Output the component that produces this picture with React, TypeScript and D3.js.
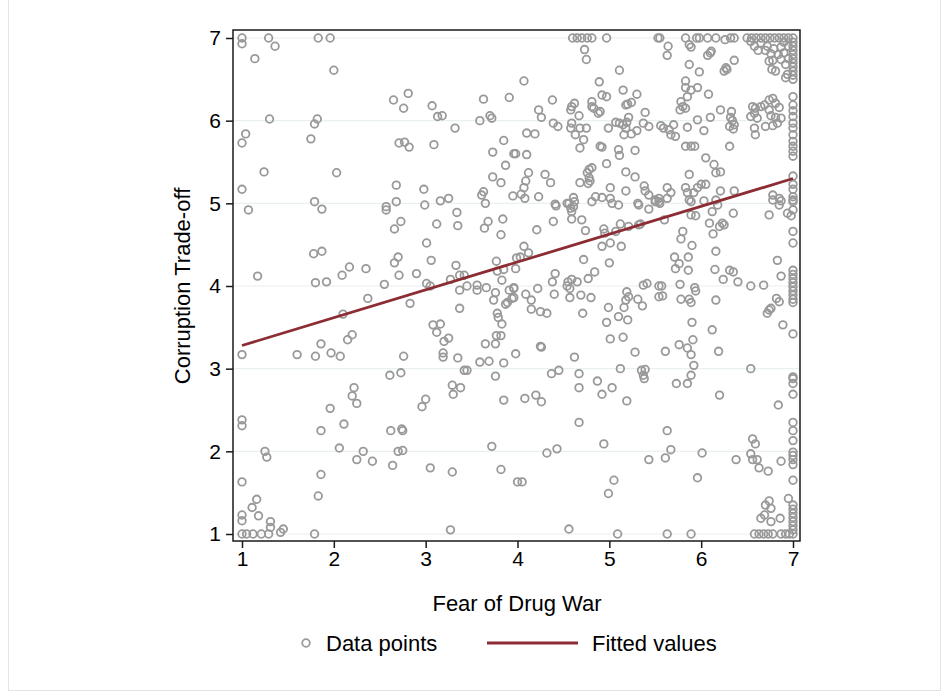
import React, { useEffect, useRef } from 'react';
import * as d3 from 'd3';

// x = Fear of Drug War, y = Corruption Trade-off
const lowPoints: [number, number][] = [
  [1, 7], [1, 6.93], [1.29, 7], [1.36, 6.9], [1.14, 6.75], [1.83, 7], [1.96, 7], [2.0, 6.61], [1.3, 6.02], [1.82, 6.02],
  [1.79, 5.96], [1.04, 5.84], [1, 5.73], [1.75, 5.78], [1.24, 5.38], [2.03, 5.37], [1, 5.17], [1.79, 5.02], [1.87, 4.93], [1.07, 4.92],
  [1.78, 4.39], [1.87, 4.42], [1.17, 4.12], [1.8, 4.04], [1.92, 4.05], [2.09, 4.13], [2.17, 4.23], [2.35, 4.21], [2.37, 3.85], [2.1, 3.66],
  [2.2, 3.41], [2.15, 3.35], [1.86, 3.3], [1, 3.17], [1.6, 3.17], [1.8, 3.15], [1.97, 3.19], [2.07, 3.15],
  [2.22, 2.77], [2.2, 2.67], [2.25, 2.58], [1.96, 2.52], [1, 2.38], [1, 2.31], [2.11, 2.33], [1.86, 2.25], [2.06, 2.04], [1.25, 2.0],
  [1.27, 1.93], [2.32, 2.0], [2.25, 1.9], [2.42, 1.88], [1, 1.63], [1.86, 1.72], [1.83, 1.46], [1.16, 1.42], [1.11, 1.32], [1.18, 1.22],
  [1, 1.23], [1, 1.16], [1.31, 1.15], [1.31, 1.08], [1.45, 1.06], [1.42, 1.02], [1, 1], [1.05, 1], [1.12, 1], [1.21, 1], [1.29, 1], [1.79, 1],
];

const midPoints: [number, number][] = [
  [2.65, 6.25], [2.81, 6.33], [2.76, 6.15], [3.07, 6.18], [3.13, 6.05], [3.18, 6.06], [3.32, 5.91], [3.63, 6.26], [3.91, 6.28], [3.59, 6.0],
  [3.7, 6.06], [3.72, 6.03], [2.71, 5.73], [2.77, 5.74], [2.82, 5.68], [3.09, 5.71], [3.85, 5.76], [3.73, 5.62], [3.96, 5.6], [3.87, 5.46],
  [3.73, 5.32], [3.82, 5.25], [2.68, 5.22], [2.98, 5.17], [2.68, 5.02], [2.57, 4.96], [2.57, 4.92], [2.99, 4.98], [3.16, 5.03], [3.25, 5.06],
  [3.63, 5.14], [3.61, 5.1], [3.65, 5.0], [3.95, 5.09], [3.34, 4.89], [2.73, 4.78], [2.66, 4.69], [3.12, 4.75], [3.35, 4.73], [3.68, 4.78],
  [3.64, 4.7], [3.84, 4.81], [3.82, 4.62], [3.01, 4.52], [2.7, 4.35], [2.66, 4.28], [3.06, 4.31], [2.71, 4.13], [2.9, 4.15], [2.55, 4.02],
  [3.01, 4.03], [3.05, 4.0], [3.33, 4.25], [3.27, 4.08], [3.37, 4.13], [3.42, 4.13], [3.37, 3.95], [3.45, 4.0], [3.56, 4.01], [3.56, 3.95],
  [3.66, 3.98], [3.77, 4.3], [3.78, 4.18], [3.85, 4.2], [3.83, 4.07], [3.76, 3.92], [3.74, 3.83], [3.91, 3.95], [3.96, 3.97], [3.94, 3.85],
  [3.89, 3.8], [3.87, 3.78], [3.99, 4.34], [2.83, 3.79], [3.37, 3.73], [3.78, 3.67], [3.79, 3.62], [3.83, 3.54], [3.08, 3.53], [3.16, 3.54],
  [3.12, 3.44], [3.2, 3.33], [3.25, 3.37], [3.77, 3.4], [3.82, 3.4], [3.76, 3.3], [3.65, 3.3], [2.76, 3.15], [3.19, 3.19], [3.19, 3.14],
  [3.35, 3.13], [3.59, 3.08], [3.69, 3.09], [3.85, 3.07], [3.98, 3.18], [2.61, 2.92], [2.73, 2.95], [3.42, 2.98], [3.45, 2.98], [3.76, 2.91],
  [3.29, 2.8], [3.38, 2.77], [3.3, 2.69], [3.0, 2.63], [2.96, 2.54], [3.85, 2.62], [2.62, 2.25], [2.74, 2.27], [2.75, 2.25], [2.7, 2.0],
  [2.75, 2.01], [3.72, 2.06], [2.64, 1.83], [3.05, 1.8], [3.29, 1.75], [3.82, 1.78], [4.0, 1.63], [3.27, 1.05],
];

const highPoints: [number, number][] = [
  [4.6, 7], [4.65, 7], [4.7, 7], [4.76, 7], [4.81, 7], [4.97, 7], [5.53, 7], [4.73, 6.86], [4.75, 6.74], [5.11, 6.61],
  [4.07, 6.48], [4.89, 6.47], [5.15, 6.37], [5.3, 6.32], [4.92, 6.31], [4.97, 6.29], [4.38, 6.25], [5.2, 6.2], [5.24, 6.22], [5.18, 6.19],
  [4.81, 6.23], [4.81, 6.17], [4.83, 6.15], [4.62, 6.21], [4.59, 6.17], [4.58, 6.13], [4.9, 6.11], [4.88, 6.09], [5.39, 6.1], [4.23, 6.13],
  [4.26, 6.04], [4.67, 6.06], [5.21, 6.04], [5.19, 5.98], [4.39, 5.97], [4.44, 5.93], [4.59, 5.97], [4.58, 5.91], [4.68, 5.91], [4.75, 5.91],
  [4.63, 5.83], [4.99, 5.91], [5.07, 5.98], [5.11, 5.97], [5.15, 5.95], [5.18, 5.91], [5.37, 5.97], [5.43, 5.93], [5.3, 5.88], [5.24, 5.84],
  [5.16, 5.83], [4.1, 5.85], [4.19, 5.84], [4.72, 5.77], [4.68, 5.67], [4.9, 5.69], [4.92, 5.68], [5.1, 5.65], [5.11, 5.58], [5.28, 5.64],
  [3.98, 5.6], [4.1, 5.59], [4.97, 5.48], [4.78, 5.41], [4.81, 5.43], [4.76, 5.37], [4.78, 5.31], [4.79, 5.27], [4.77, 5.24], [4.68, 5.25],
  [5.18, 5.38], [5.28, 5.32], [4.12, 5.37], [4.09, 5.27], [4.07, 5.19], [4.04, 5.11], [4.3, 5.35], [4.36, 5.25], [5.01, 5.19], [5.18, 5.15],
  [5.38, 5.21], [5.39, 5.15], [5.43, 5.1], [4.08, 5.06], [4.23, 5.08], [4.61, 5.07], [4.62, 5.02], [4.54, 5.0], [4.85, 5.08], [4.92, 5.07],
  [5.01, 5.06], [4.81, 5.02], [4.41, 4.99], [5.03, 5.0], [5.1, 4.98], [5.31, 5.0], [5.5, 5.04], [5.54, 5.02],
  [4.42, 4.97], [4.56, 5.0], [4.58, 4.94], [4.59, 4.9], [4.61, 4.96], [5.32, 4.98], [5.43, 4.93], [4.39, 4.78], [4.59, 4.81], [4.7, 4.8],
  [4.21, 4.68], [4.74, 4.67], [4.94, 4.69], [4.95, 4.64], [5.07, 4.66], [5.12, 4.75], [5.21, 4.72], [5.32, 4.74], [5.34, 4.75], [4.92, 4.48],
  [5.01, 4.52], [5.13, 4.48], [4.07, 4.48], [4.12, 4.4], [4.03, 4.35], [3.98, 4.21], [4.72, 4.32], [5.0, 4.28], [4.41, 4.15], [4.38, 4.05],
  [4.84, 4.17], [4.77, 4.09], [4.59, 4.08], [4.55, 4.05], [4.54, 4.0], [4.57, 3.97], [4.65, 4.05], [4.22, 3.97], [3.96, 3.98], [3.96, 3.86],
  [4.09, 3.9], [4.15, 3.83], [4.4, 3.9], [4.57, 3.86], [4.69, 3.89], [4.8, 3.86], [4.15, 3.72], [4.25, 3.69], [4.32, 3.67], [4.71, 3.67],
  [5.19, 3.93], [5.21, 3.87], [5.18, 3.83], [5.31, 3.84], [5.36, 3.76], [5.37, 4.01], [5.41, 4.03], [5.54, 4.0], [5.54, 3.87], [4.99, 3.74],
  [5.16, 3.74], [5.1, 3.63], [5.2, 3.59], [4.97, 3.56], [4.25, 3.27], [4.26, 3.26], [5.01, 3.36], [5.15, 3.38], [5.28, 3.2], [4.62, 3.14],
  [4.37, 2.94], [4.45, 2.98], [4.67, 2.94], [5.12, 3.0], [5.35, 2.98], [5.39, 2.99], [5.37, 2.92], [5.38, 2.88],
  [4.08, 2.64], [4.2, 2.68], [4.26, 2.6], [4.67, 2.77], [4.87, 2.85], [5.03, 2.77], [4.92, 2.69], [5.19, 2.61], [4.67, 2.35], [4.32, 1.98],
  [4.43, 2.03], [4.94, 2.09], [5.43, 1.9], [4.05, 1.63], [5.05, 1.65], [4.99, 1.49], [4.56, 1.06], [5.09, 1.0],
];

const topPoints: [number, number][] = [
  [5.55, 7], [5.83, 7], [5.95, 7], [5.98, 7], [6.07, 7], [6.16, 7], [6.26, 6.98], [6.32, 7], [6.36, 7], [5.64, 6.9],
  [5.63, 6.79], [5.87, 6.92], [5.89, 6.89], [6.07, 6.79], [6.1, 6.82], [6.11, 6.84], [5.87, 6.68], [5.98, 6.59], [6.27, 6.64], [6.25, 6.6],
  [6.28, 6.62], [6.36, 6.73], [5.83, 6.48], [5.83, 6.4], [5.89, 6.37], [5.96, 6.4], [5.85, 6.29], [6.08, 6.32], [5.78, 6.23], [5.8, 6.17],
  [5.83, 6.15], [5.77, 6.13], [6.21, 6.13], [6.33, 6.11], [6.32, 6.04], [6.34, 6.0], [6.36, 5.95], [6.1, 6.04], [5.96, 6.01], [6.31, 5.93],
  [6.35, 5.9], [5.56, 5.94], [5.59, 5.91], [5.65, 5.89], [5.67, 5.83], [5.72, 5.81], [5.7, 5.95], [5.85, 5.92], [6.03, 5.88], [5.83, 5.69],
  [5.89, 5.69], [5.93, 5.69], [6.31, 5.69], [6.05, 5.55], [6.14, 5.47], [6.16, 5.37], [6.21, 5.38], [5.87, 5.35],
  [6.56, 6.17], [6.59, 6.15], [6.58, 6.09], [6.54, 6.05], [6.61, 6.03], [6.65, 6.17], [6.69, 6.19], [6.74, 6.25], [6.78, 6.27], [6.81, 6.21],
  [6.85, 6.16], [6.74, 6.13], [6.76, 6.06], [6.81, 6.04], [6.87, 6.03], [6.58, 5.91], [6.59, 5.83], [6.7, 5.93], [6.78, 5.94], [6.83, 5.97],
  [6.78, 5.1], [6.85, 5.06], [6.87, 5.03], [6.0, 5.23], [6.05, 5.23], [5.96, 5.19], [5.83, 5.19], [5.85, 5.13], [5.92, 5.13], [5.87, 5.04],
  [5.89, 5.02], [5.63, 5.19], [5.67, 5.13], [5.63, 5.06], [5.54, 5.06], [5.55, 5.0], [5.5, 5.02], [6.21, 5.15], [6.36, 5.15], [6.03, 5.03],
  [6.16, 5.04], [6.18, 4.98], [6.12, 4.9], [6.09, 4.76], [6.13, 4.63], [6.2, 4.72], [6.23, 4.76], [6.25, 4.74], [6.35, 4.88], [5.89, 4.86],
  [5.94, 4.85], [5.6, 4.8], [6.74, 4.86], [6.85, 4.98], [6.78, 5.04], [6.94, 4.88], [6.98, 4.85],
  [5.8, 4.66], [5.78, 4.57], [5.9, 4.49], [6.16, 4.42], [5.71, 4.35], [5.76, 4.27], [5.72, 4.21], [5.86, 4.35], [5.86, 4.19], [6.15, 4.2],
  [6.24, 4.08], [6.31, 4.19], [6.35, 4.17], [6.4, 4.05], [6.54, 4.0], [6.68, 4.01], [6.83, 4.31], [6.87, 4.12],
  [5.57, 4.0], [5.58, 3.88], [5.77, 4.02], [5.78, 3.84], [5.87, 3.84], [5.89, 3.8], [5.93, 3.98], [5.94, 3.94], [6.16, 3.83], [6.82, 3.85],
  [6.85, 3.81], [6.72, 3.67], [6.74, 3.71], [6.76, 3.73], [6.89, 3.53], [5.9, 3.56], [6.12, 3.47], [5.61, 3.21], [5.76, 3.29], [5.85, 3.25],
  [5.91, 3.35], [5.89, 3.17], [5.92, 3.04], [6.19, 3.21], [6.54, 3.0], [5.89, 2.92],
  [5.85, 2.82], [5.73, 2.82], [6.2, 2.68], [6.84, 2.56], [5.63, 2.25], [5.67, 2.02], [5.61, 1.92], [6.01, 1.98], [5.96, 1.68], [6.38, 1.9],
  [6.56, 2.15], [6.59, 2.09], [6.54, 1.97], [6.56, 1.9], [6.61, 1.9], [6.63, 1.8], [6.73, 1.76], [6.87, 1.88], [6.95, 1.43], [6.74, 1.4],
  [6.7, 1.35], [6.76, 1.31], [6.65, 1.19], [6.69, 1.23], [6.76, 1.15], [6.86, 1.19],
  [5.63, 1], [5.89, 1], [6.58, 1], [6.63, 1], [6.68, 1], [6.73, 1], [6.78, 1], [6.87, 1], [6.92, 1], [6.96, 1],
];

const cornerPoints: [number, number][] = [
  [6.5, 7], [6.55, 7], [6.6, 7], [6.65, 7], [6.7, 7], [6.75, 7], [6.8, 7], [6.85, 7], [6.9, 7], [6.95, 7],
  [6.54, 6.96], [6.58, 6.9], [6.65, 6.94], [6.72, 6.9], [6.7, 6.85], [6.76, 6.81], [6.79, 6.87], [6.87, 6.89], [6.74, 6.72], [6.78, 6.73],
  [6.87, 6.74], [6.77, 6.62], [6.81, 6.6], [6.92, 6.68], [6.94, 6.56], [6.92, 6.52], [6.9, 6.95], [6.84, 6.8], [6.9, 6.82], [6.95, 6.9],
  [6.95, 6.75], [6.62, 6.85],
];

// points sitting on x = 7
const edgeY = [
  7.0, 6.95, 6.9, 6.85, 6.8, 6.75, 6.7, 6.65, 6.6, 6.55, 6.5, 6.29, 6.19, 6.12, 6.05, 5.97, 5.91, 5.83, 5.75, 5.69,
  5.63, 5.57, 5.33, 5.23, 5.17, 5.08, 5.02, 4.92, 5.04, 4.66, 4.52, 4.19, 4.14, 4.09, 4.04, 3.99, 3.94, 3.89, 3.84, 3.8,
  3.42, 2.9, 2.88, 2.82, 2.69, 2.35, 2.25, 2.13, 1.99, 1.95, 1.9, 1.84, 1.65, 1.35, 1.3, 1.25, 1.2, 1.15, 1.1, 1.05, 1.0,
];

// fitted values at x = 1 and x = 7
const fittedX = [1, 7];
const fittedY = [3.28, 5.3];

const ticks = [1, 2, 3, 4, 5, 6, 7];

const W = 949;
const H = 694;
const FONT = '"Liberation Sans", Arial, Helvetica, sans-serif';
const MARKER = '#999999';
const FIT = '#8c2d34';

export default function App() {
  const svgRef = useRef<SVGSVGElement>(null);

  useEffect(() => {
    if (!svgRef.current) return;
    const svg = d3.select(svgRef.current);
    svg.selectAll('*').remove();

    const frame = { left: 233, right: 800, top: 30, bottom: 541 };
    const x = d3.scaleLinear().domain([1, 7]).range([242, 793]);
    const y = d3.scaleLinear().domain([1, 7]).range([534, 38]);

    // outer graph region border
    svg.append('rect')
      .attr('x', 8.5).attr('y', -1)
      .attr('width', 932).attr('height', 691.5)
      .attr('fill', 'white')
      .attr('stroke', '#e3e3e3');

    // grid
    svg.append('g')
      .selectAll('line')
      .data(ticks)
      .enter()
      .append('line')
      .attr('x1', frame.left).attr('x2', frame.right)
      .attr('y1', (d) => y(d)).attr('y2', (d) => y(d))
      .attr('stroke', '#e9f0f2')
      .attr('stroke-width', 1.2);

    const allPoints = [
      ...lowPoints, ...midPoints, ...highPoints, ...topPoints, ...cornerPoints,
      ...edgeY.map((v) => [7, v] as [number, number]),
    ];

    svg.append('g')
      .selectAll('circle')
      .data(allPoints)
      .enter()
      .append('circle')
      .attr('cx', (d) => x(d[0]))
      .attr('cy', (d) => y(d[1]))
      .attr('r', 3.8)
      .attr('fill', 'none')
      .attr('stroke', MARKER)
      .attr('stroke-width', 1.8);

    // fitted line
    const line = d3.line<number>()
      .x((d) => x(fittedX[d]))
      .y((d) => y(fittedY[d]));
    svg.append('path')
      .attr('d', line([0, 1]))
      .attr('fill', 'none')
      .attr('stroke', FIT)
      .attr('stroke-width', 2.8);

    // frame
    svg.append('rect')
      .attr('x', frame.left).attr('y', frame.top)
      .attr('width', frame.right - frame.left)
      .attr('height', frame.bottom - frame.top)
      .attr('fill', 'none')
      .attr('stroke', '#1a1a1a')
      .attr('stroke-width', 1.5);

    // axes
    const xAxis = svg.append('g')
      .attr('transform', `translate(0,${frame.bottom})`)
      .call(d3.axisBottom(x).tickValues(ticks).tickSize(7).tickPadding(3).tickFormat(d3.format('d')));
    const yAxis = svg.append('g')
      .attr('transform', `translate(${frame.left},0)`)
      .call(d3.axisLeft(y).tickValues(ticks).tickSize(7).tickPadding(5).tickFormat(d3.format('d')));
    [xAxis, yAxis].forEach((a) => {
      a.select('.domain').remove();
      a.selectAll('line').attr('stroke', '#1a1a1a').attr('stroke-width', 1.5);
      a.selectAll('text')
        .attr('fill', '#000')
        .style('font-family', FONT)
        .style('font-size', '21px');
    });

    // titles
    svg.append('text')
      .attr('x', 517).attr('y', 611)
      .attr('text-anchor', 'middle')
      .style('font-family', FONT).style('font-size', '22px')
      .text('Fear of Drug War');
    svg.append('text')
      .attr('transform', 'translate(190,286) rotate(-90)')
      .attr('text-anchor', 'middle')
      .style('font-family', FONT).style('font-size', '22px')
      .text('Corruption Trade-off');

    // legend
    const lg = svg.append('g');
    lg.append('circle')
      .attr('cx', 306).attr('cy', 643).attr('r', 3.8)
      .attr('fill', 'none').attr('stroke', MARKER).attr('stroke-width', 1.8);
    lg.append('text')
      .attr('x', 326).attr('y', 651)
      .style('font-family', FONT).style('font-size', '22px')
      .text('Data points');
    lg.append('line')
      .attr('x1', 487).attr('x2', 578).attr('y1', 643).attr('y2', 643)
      .attr('stroke', FIT).attr('stroke-width', 2.8);
    lg.append('text')
      .attr('x', 592).attr('y', 651)
      .style('font-family', FONT).style('font-size', '22px')
      .text('Fitted values');
  }, []);

  return (
    <svg
      ref={svgRef}
      width={W}
      height={H}
      style={{ position: 'absolute', left: 0, top: 0, background: 'white' }}
    />
  );
}
